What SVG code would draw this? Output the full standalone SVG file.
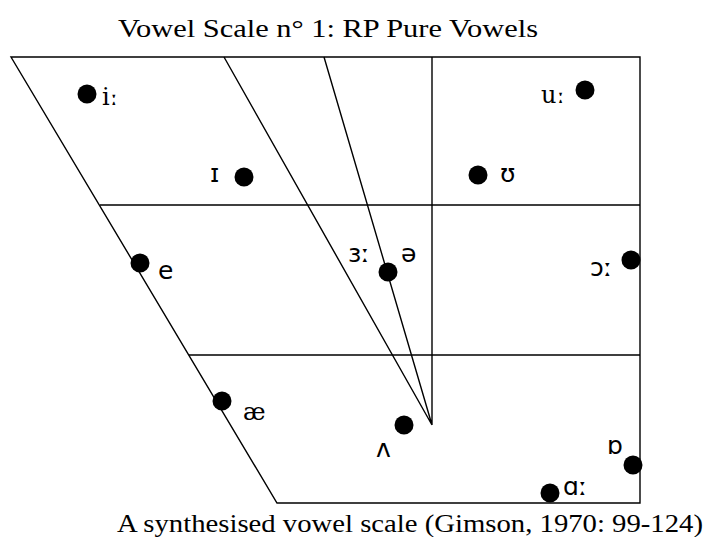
<svg xmlns="http://www.w3.org/2000/svg" width="706" height="537" viewBox="0 0 706 537">
<style>
.ln{stroke:#000;stroke-width:1.4;fill:none}
.dot{fill:#000}
.t{font-family:"Liberation Serif","DejaVu Serif",serif;font-size:25px;fill:#000}
.ipa{font-family:"DejaVu Sans","Noto Sans",sans-serif;font-size:25px;fill:#000}
.ips{font-family:"DejaVu Serif","Liberation Serif",serif;font-size:24px;fill:#000}
</style>
<rect width="706" height="537" fill="#fff"/>
<text class="t" x="118" y="37" textLength="420" lengthAdjust="spacingAndGlyphs">Vowel Scale n° 1: RP Pure Vowels</text>
<g id="connectors">
<path class="ln" d="M11 57 H640 V503 H277 Z"/>
<path class="ln" d="M100 205 H640 M189 355 H640"/>
<path class="ln" d="M432 57 V425 M224 57 L432 425 M324 57 L432 425"/>
</g>
<g id="v-i"><circle class="dot" cx="87" cy="94" r="9.5"/><text class="ips" x="102" y="105">iː</text></g>
<g id="v-u"><circle class="dot" cx="585" cy="90" r="9.5"/><text class="ips" x="541" y="103">uː</text></g>
<g id="v-I"><circle class="dot" cx="244" cy="177" r="9.5"/><text class="ipa" x="210" y="182">ɪ</text></g>
<g id="v-U"><circle class="dot" cx="478" cy="175" r="9.5"/><text class="ipa" x="500" y="182">ʊ</text></g>
<g id="v-e"><circle class="dot" cx="140" cy="263" r="9.5"/><text class="ipa" x="158" y="279">e</text></g>
<g id="v-3"><text class="ipa" x="348" y="262">ɜː</text></g>
<g id="v-schwa"><circle class="dot" cx="388" cy="272" r="9.5"/><text class="ipa" x="401" y="262">ə</text></g>
<g id="v-o"><circle class="dot" cx="631" cy="260" r="9.5"/><text class="ipa" x="590" y="276">ɔː</text></g>
<g id="v-ae"><circle class="dot" cx="222" cy="401" r="9.5"/><text class="ips" x="243" y="420">æ</text></g>
<g id="v-V"><circle class="dot" cx="404" cy="425" r="9.5"/><text class="ipa" x="376" y="457">ʌ</text></g>
<g id="v-Q"><circle class="dot" cx="633" cy="465" r="9.5"/><text class="ipa" x="607" y="454">ɒ</text></g>
<g id="v-A"><circle class="dot" cx="550" cy="493" r="9.5"/><text class="ipa" x="563" y="495">ɑː</text></g>
<text class="t" x="117" y="532" textLength="586" lengthAdjust="spacingAndGlyphs">A synthesised vowel scale (Gimson, 1970: 99-124)</text>
</svg>
